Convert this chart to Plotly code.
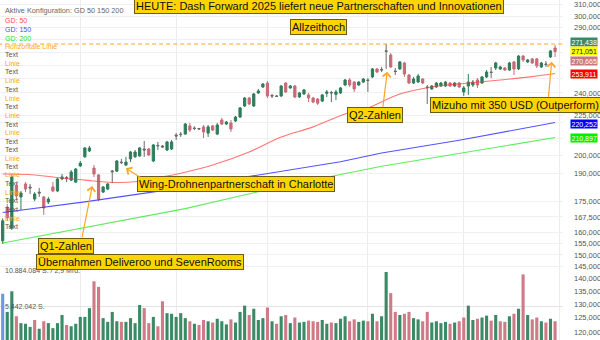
import math
import pandas as pd
import plotly.graph_objects as go

# ---------------- data ----------------
holidays = ["2025-04-18", "2025-05-26", "2025-06-19", "2025-07-04", "2025-09-01"]
dates = [d for d in pd.bdate_range("2025-04-07", "2025-09-30") if d.strftime("%Y-%m-%d") not in holidays]

open_ = [156.3, 172.3, 162.2, 183.2, 177.5, 184.3, 182.7, 176.4, 180.0, 177.5,
         174.9, 182.7, 180.6, 187.0, 187.8, 186.4, 185.3, 194.2, 199.4, 202.8,
         193.0, 189.2, 180.0, 181.6, 190.8, 191.3, 196.4, 194.7, 198.2, 199.4,
         199.9, 204.0, 204.0, 197.0, 205.8, 205.8, 203.4, 204.0, 212.4, 213.0,
         213.0, 218.1, 216.8, 216.5, 217.5, 213.6, 218.1, 213.0, 221.9, 219.3,
         220.0, 221.2, 223.8, 231.1, 236.5, 231.1, 240.0, 244.2, 247.0, 238.3,
         237.9, 237.9, 247.0, 243.5, 244.9, 237.2, 239.3, 238.6, 236.5, 235.8,
         234.4, 239.7, 240.4, 239.0, 240.0, 245.6, 249.2, 247.7, 245.6, 247.7,
         249.2, 251.4, 257.3, 256.9, 271.2, 267.9, 255.8, 257.3, 261.8, 252.8,
         247.0, 247.7, 249.9, 244.2, 242.8, 244.2, 244.9, 244.9, 247.0, 244.9,
         247.0, 240.7, 244.9, 245.6, 249.2, 247.0, 251.4, 255.0, 258.0, 257.3,
         258.0, 256.5, 262.6, 257.3, 267.1, 262.6, 264.9, 264.9, 258.8, 261.0,
         266.4, 273.4]
high = [166.8, 173.9, 189.2, 184.8, 180.6, 185.3, 184.3, 180.0, 182.2, 178.0,
        177.5, 185.3, 187.5, 189.7, 188.6, 191.9, 193.0, 197.0, 205.2, 205.8,
        194.7, 189.7, 183.2, 184.8, 191.9, 197.6, 198.2, 199.4, 202.8, 203.4,
        205.2, 208.8, 204.6, 207.0, 208.2, 206.4, 208.8, 209.4, 213.6, 214.3,
        220.0, 220.0, 217.8, 216.8, 218.7, 218.7, 218.7, 220.0, 223.2, 221.2,
        221.9, 224.5, 230.4, 237.2, 237.2, 240.0, 242.8, 247.0, 248.4, 239.3,
        238.6, 245.6, 247.7, 245.6, 245.6, 240.7, 242.8, 240.0, 237.2, 236.5,
        239.3, 242.1, 241.4, 242.1, 244.2, 249.9, 250.6, 248.4, 248.4, 250.6,
        250.6, 258.0, 258.0, 258.8, 276.6, 269.4, 258.0, 263.3, 262.6, 253.5,
        251.4, 253.5, 250.6, 245.6, 245.6, 247.7, 247.7, 248.4, 247.7, 247.7,
        247.7, 244.9, 253.5, 249.2, 250.6, 252.1, 256.5, 258.8, 262.6, 259.6,
        258.8, 262.6, 263.3, 267.9, 267.9, 264.9, 265.6, 265.6, 262.6, 263.3,
        271.8, 275.8]
low = [154.9, 165.6, 161.3, 175.9, 170.9, 180.0, 179.0, 175.4, 177.5, 168.5,
       173.9, 180.0, 180.0, 186.4, 185.3, 185.9, 184.8, 193.6, 198.8, 202.2,
       188.1, 175.4, 179.5, 181.1, 184.8, 190.8, 195.3, 194.2, 196.4, 198.8,
       199.4, 199.4, 199.9, 196.4, 203.4, 204.6, 202.8, 203.4, 209.4, 211.2,
       212.7, 214.3, 215.5, 215.5, 210.6, 211.2, 214.9, 212.4, 218.7, 218.7,
       214.3, 220.6, 223.2, 230.4, 231.8, 230.4, 239.3, 243.5, 236.5, 236.5,
       237.2, 237.2, 240.0, 242.8, 236.5, 236.5, 238.6, 233.7, 233.0, 231.8,
       233.7, 237.2, 233.7, 235.1, 239.3, 244.9, 244.2, 240.7, 244.9, 247.0,
       240.7, 250.6, 254.3, 255.0, 257.3, 258.0, 252.8, 256.5, 251.4, 246.3,
       246.3, 247.0, 246.3, 232.4, 242.1, 243.5, 244.2, 244.2, 244.2, 244.2,
       243.5, 237.9, 238.6, 244.2, 243.5, 246.3, 250.6, 250.6, 256.5, 256.5,
       255.8, 255.8, 252.8, 256.5, 262.6, 261.8, 261.0, 258.0, 258.0, 258.8,
       265.6, 266.4]
close = [165.6, 167.1, 188.1, 178.0, 179.5, 181.6, 182.2, 179.0, 179.5, 171.9,
         176.4, 180.6, 187.0, 188.1, 187.2, 190.8, 192.5, 195.8, 204.6, 204.6,
         189.7, 176.4, 182.7, 184.3, 191.3, 197.0, 196.1, 196.4, 202.2, 202.2,
         204.6, 203.4, 200.5, 206.4, 206.1, 205.2, 208.2, 208.2, 211.8, 212.7,
         219.3, 215.5, 216.5, 216.2, 214.3, 217.5, 215.5, 218.7, 219.3, 220.6,
         216.2, 223.8, 229.8, 236.5, 232.4, 239.3, 241.4, 246.3, 237.9, 237.9,
         237.6, 244.9, 240.7, 244.9, 237.2, 240.0, 242.1, 236.5, 233.7, 233.0,
         238.6, 240.7, 240.0, 240.7, 243.5, 249.2, 245.6, 242.8, 247.7, 249.9,
         248.8, 257.3, 255.0, 256.5, 270.8, 258.8, 255.4, 262.6, 253.5, 247.0,
         249.9, 252.1, 247.0, 243.7, 244.9, 247.0, 247.0, 247.7, 244.9, 247.0,
         244.2, 243.5, 247.7, 247.7, 245.6, 251.4, 255.0, 254.7, 261.8, 258.8,
         256.5, 261.8, 257.3, 267.1, 264.1, 264.1, 261.8, 259.6, 261.8, 260.7,
         271.1, 270.7]
volume_mio = [7.4, 4.5, 7.8, 3.8, 2.7, 2.6, 2.1, 3.2, 1.8, 3.0,
              2.7, 1.9, 2.7, 4.0, 2.4, 2.2, 2.6, 3.7, 3.7, 5.1,
              9.4, 8.5, 3.5, 2.9, 4.5, 3.0, 2.9, 2.9, 3.5, 2.7,
              5.6, 5.1, 2.7, 3.7, 2.2, 6.2, 4.3, 4.2, 3.7, 4.3,
              3.5, 3.0, 2.6, 2.4, 3.2, 3.0, 2.8, 3.4, 3.0, 2.5,
              3.3, 2.8, 4.5, 5.5, 4.0, 5.0, 3.2, 3.5, 5.2, 3.0,
              2.6, 3.8, 4.0, 2.7, 3.6, 2.8, 2.9, 3.1, 3.0, 2.9,
              3.2, 2.6, 2.8, 2.7, 3.4, 3.8, 3.0, 3.3, 2.9, 3.1,
              3.0, 4.2, 3.0, 3.8, 10.884084, 7.5, 4.5, 4.0, 4.2, 4.5,
              3.5, 3.3, 3.0, 4.5, 2.8, 3.0, 2.7, 2.9, 2.6, 2.8,
              3.0, 3.6, 5.5, 3.2, 3.4, 3.6, 3.9, 3.1, 4.0, 3.0,
              2.9, 3.8, 4.2, 5.0, 10.5, 4.0, 3.3, 3.6, 3.0, 2.8,
              3.4, 3.0]

ma50_idx = [0, 7, 13, 18, 24, 29, 35, 39, 46, 54, 61, 68, 75, 80, 87, 94, 102, 109, 116, 121]
ma50_val = [189.7, 189.2, 187.5, 186.4, 185.1, 185.5, 188.1, 190.1, 194.7, 202.2,
            211.2, 217.5, 225.8, 229.8, 239.3, 244.2, 247.0, 249.2, 251.6, 253.911]
ma150_idx = [0, 18, 35, 53, 74, 83, 100, 121]
ma150_val = [169.7, 175.0, 180.8, 188.1, 196.6, 201.6, 209.2, 220.252]
ma200_idx = [0, 18, 40, 61, 83, 121]
ma200_val = [155.3, 162.5, 171.6, 183.0, 194.0, 210.897]

label_values = [271.438, 271.051, 270.665, 253.911, 220.252, 210.897]
tick_values = [310, 300, 290, 280, 270, 260, 250, 240, 225, 220, 210, 200, 190, 175, 167.5,
               160, 155, 150, 145, 140, 135, 130, 125, 120]
hidden_ticks = [280, 270, 260, 250, 220, 210]   # covered by the price boxes

# ---------------- styling ----------------
W, H = 600, 340
ML, MR = 0, 37
PW = W - ML - MR
FONT = "Liberation Sans, Arial, sans-serif"
GREEN = "#2f7d5a"
RED = "#c96a78"
GRAY = "#6a6a6a"
ORANGE = "#ffa51f"
YELLOW = "#ffd500"


def px(x):
    return (x - ML) / PW


def py(y):
    return 1 - y / H


def fmt(v, dec=3):
    s = f"{v:,.{dec}f}"
    return s.replace(",", "X").replace(".", ",").replace("X", ".")


n = len(close)
idx = list(range(n))
neutral = [abs(c - o) < 0.65 for o, c in zip(open_, close)]

fig = go.Figure()

# moving averages
fig.add_trace(go.Scatter(x=ma200_idx, y=ma200_val, mode="lines",
                         line=dict(color="rgba(40,230,40,0.75)", width=1.1), hoverinfo="skip"))
fig.add_trace(go.Scatter(x=ma150_idx, y=ma150_val, mode="lines",
                         line=dict(color="rgba(40,40,255,0.8)", width=1.1), hoverinfo="skip"))
fig.add_trace(go.Scatter(x=ma50_idx, y=ma50_val, mode="lines", line_shape="spline",
                         line=dict(color="rgba(255,60,60,0.7)", width=1.1), hoverinfo="skip"))

# all-time-high dashed line
ath = max(high)
fig.add_trace(go.Scatter(x=[-1, n + 2], y=[ath, ath], mode="lines",
                         line=dict(color=ORANGE, width=1.2, dash="4px,3px"), hoverinfo="skip"))

# candles
sel = [i for i in idx if not neutral[i]]
fig.add_trace(go.Candlestick(
    x=sel, open=[open_[i] for i in sel], high=[high[i] for i in sel],
    low=[low[i] for i in sel], close=[close[i] for i in sel],
    increasing=dict(line=dict(color=GREEN, width=1), fillcolor=GREEN),
    decreasing=dict(line=dict(color=RED, width=1), fillcolor=RED),
    whiskerwidth=0, hoverinfo="skip"))
seln = [i for i in idx if neutral[i]]
fig.add_trace(go.Candlestick(
    x=seln, open=[open_[i] for i in seln], high=[high[i] for i in seln],
    low=[low[i] for i in seln], close=[close[i] for i in seln],
    increasing=dict(line=dict(color=GRAY, width=1), fillcolor="#999999"),
    decreasing=dict(line=dict(color=GRAY, width=1), fillcolor="#999999"),
    whiskerwidth=0, hoverinfo="skip"))

# volume
vcol = []
for i in idx:
    if i == 0:
        vcol.append("#6f95e6")
    elif close[i] >= close[i - 1]:
        vcol.append("#3a8a66")
    else:
        vcol.append("#cf7a86")
fig.add_trace(go.Bar(x=idx, y=volume_mio, marker=dict(color=vcol, line=dict(width=0)),
                     yaxis="y2", hoverinfo="skip"))

vmax = max(volume_mio)

# month grid positions
month_starts = [i for i in idx if i == 0 or dates[i].month != dates[i - 1].month][1:] + [n]

tick_text = ["" if v in hidden_ticks else fmt(v) for v in tick_values]

fig.update_layout(
    width=W, height=H, margin=dict(l=ML, r=MR, t=0, b=0),
    paper_bgcolor="white", plot_bgcolor="white", showlegend=False,
    bargap=0.32,
    font=dict(family=FONT, size=7, color="#555555"),
    xaxis=dict(range=[-0.59, 122.74], showticklabels=False, ticks="",
               tickvals=month_starts, showgrid=True, gridcolor="#ececec", gridwidth=1,
               zeroline=False, showline=False, rangeslider=dict(visible=False), fixedrange=True),
    yaxis=dict(type="log", range=[math.log10(117.22), math.log10(314.253)], domain=[0, 1],
               side="right", tickvals=tick_values, ticktext=tick_text,
               ticks="", ticklabelstandoff=10,
               tickfont=dict(size=7.5, color="#555555", family=FONT),
               showgrid=True, gridcolor="#f0f0f0", zeroline=False, showline=False),
    yaxis2=dict(domain=[0, 0.2], range=[0, vmax], anchor="x",
                tickvals=[vmax / 2, vmax], showticklabels=False, ticks="",
                showgrid=True, gridcolor="#e4e4e4", zeroline=False, showline=False),
)

ann = []

# left legend / configuration text
ann.append(dict(text="Aktive Konfiguration: GD 50 150 200", x=px(3), y=py(10.7),
                font=dict(size=7.3, color="#666666")))
legend_items = [("GD: 50", "#ff4d4d", 20.7), ("GD: 150", "#4d4dff", 29.3), ("GD: 200", "#22dd22", 38.3),
                ("Horizontale Linie", ORANGE, 46.7)]
seq = ["Text", "Linie", "Text", "Linie", "Text", "Linie", "Text", "Linie", "Text", "Linie",
       "Text", "Text", "Linie", "Text", "Linie", "Text", "Linie", "Text", "Text", "Linie", "Text"]
ys = [54.3, 63.3, 71.7, 80.7, 89.3, 98.3, 106.7, 115.3, 124, 132.7, 141, 149.3, 158.3, 166.7,
      175, 183.3, 192.3, 200.7, 209, 218.3, 226.7]
for t, yy in zip(seq, ys):
    legend_items.append((t, ORANGE if t == "Linie" else "#555555", yy))
for t, c, yy in legend_items:
    ann.append(dict(text=t, x=px(3), y=py(yy), font=dict(size=7, color=c)))

for a in ann:
    a.update(xref="paper", yref="paper", xanchor="left", yanchor="middle", showarrow=False)

# volume labels
ann.append(dict(text=f"{fmt(vmax * 1e6, 0)} S. / 2,9 Mrd.", xref="paper", yref="paper",
                x=px(3), y=py(270.5), xanchor="left", yanchor="middle", showarrow=False,
                font=dict(size=7, color="#555555")))
ann.append(dict(text=f"{fmt(vmax / 2 * 1e6, 0)} S.", xref="paper", yref="paper",
                x=px(3), y=py(306.5), xanchor="left", yanchor="middle", showarrow=False,
                font=dict(size=7, color="#555555")))

# yellow event boxes
boxes = [
    ("HEUTE: Dash Forward 2025 liefert neue Partnerschaften und Innovationen", 318.5, 5.5),
    ("Allzeithoch", 318.7, 27.3),
    ("Q2-Zahlen", 374.5, 115.3),
    ("Mizuho mit 350 USD (Outperform)", 515.5, 105.0),
    ("Wing-Drohnenpartnerschaft in Charlotte", 236.0, 183.7),
    ("Q1-Zahlen", 66.3, 246.3),
    ("Übernahmen Deliveroo und SevenRooms", 140.0, 261.5),
]
for t, bx, by in boxes:
    ann.append(dict(text=t, xref="paper", yref="paper", x=px(bx), y=py(by),
                    xanchor="center", yanchor="middle", showarrow=False,
                    bgcolor=YELLOW, bordercolor="#6b5a1a", borderwidth=1, borderpad=1,
                    font=dict(size=11, color="#111111", family=FONT)))

# arrows (tail -> head, pixels)
arrows = [((81.7, 239.0), (92.3, 186.0)),
          ((141.7, 178.3), (126.0, 168.3)),
          ((382.7, 108.3), (387.3, 71.7)),
          ((548.3, 98.3), (551.7, 61.7))]
for (tx, ty), (hx, hy) in arrows:
    ann.append(dict(text="", xref="paper", yref="paper", x=px(hx), y=py(hy),
                    axref="pixel", ayref="pixel", ax=tx - hx, ay=ty - hy,
                    showarrow=True, arrowhead=4, arrowsize=1.3, arrowwidth=1.2,
                    arrowcolor=ORANGE, standoff=0, startstandoff=0))

# right price boxes
box_style = [("#3a8a68", "white", 8.5), ("#ffff00", "#222222", -0.5), ("#c9777f", "white", -10.0),
             ("#ff0000", "white", 0), ("#0000ff", "white", -1.8), ("#00ee00", "white", 0)]
for v, (bg, fc, shift) in zip(label_values, box_style):
    ann.append(dict(text=fmt(v), xref="paper", yref="y", x=1, xanchor="left", xshift=7,
                    y=math.log10(v), yanchor="middle", yshift=shift, showarrow=False,
                    bgcolor=bg, borderpad=0.5, font=dict(size=7, color=fc, family=FONT)))

fig.update_layout(annotations=ann)
fig.write_html("out.html")
